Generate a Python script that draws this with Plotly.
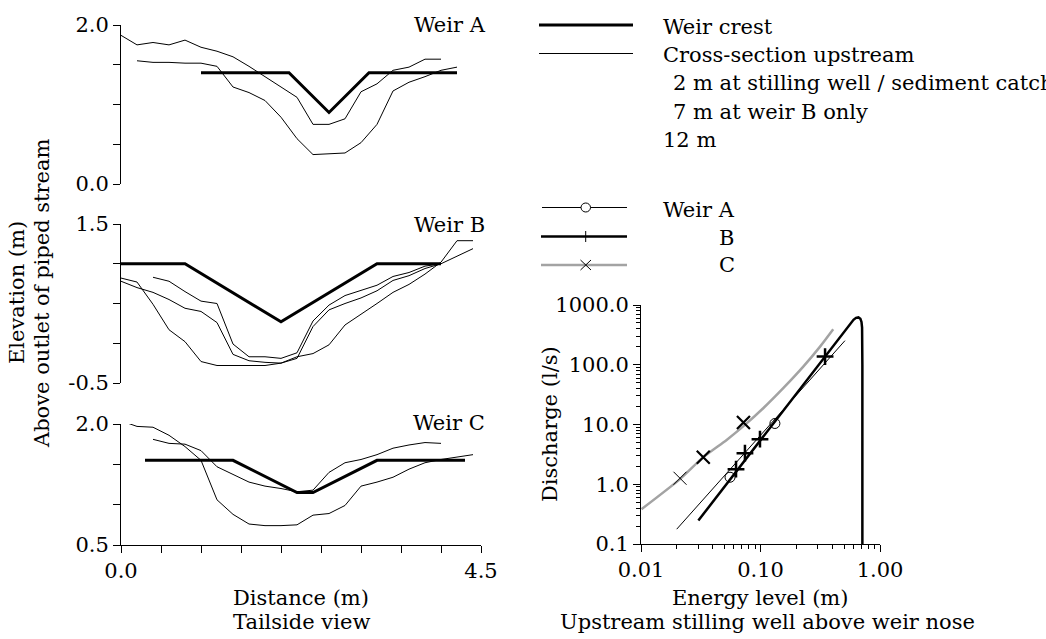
import plotly.graph_objects as go

W, H = 1046, 639
FONT = "DejaVu Serif"
FS = 21

# ---------------- Weir cross-sections (distance m, elevation m) ----------------
weirA_crest_x = [1.0, 2.1, 2.6, 3.1, 4.2]
weirA_crest_y = [1.4, 1.4, 0.9, 1.4, 1.4]
weirA_sec1_x = [0.0, 0.2, 0.4, 0.6, 0.8, 1.0, 1.2, 1.4, 1.6, 1.8, 2.0,
                2.2, 2.4, 2.6, 2.8, 3.0, 3.2, 3.4, 3.6, 3.8, 4.0]
weirA_sec1_y = [1.87, 1.75, 1.78, 1.75, 1.81, 1.72, 1.67, 1.60, 1.48, 1.35, 1.22,
                1.09, 0.75, 0.75, 0.82, 1.16, 1.26, 1.43, 1.47, 1.57, 1.57]
weirA_sec2_x = [0.2, 0.4, 0.6, 0.8, 1.0, 1.2, 1.4, 1.6, 1.8, 2.0, 2.2,
                2.4, 2.6, 2.8, 3.0, 3.2, 3.4, 3.6, 3.8, 4.0, 4.2]
weirA_sec2_y = [1.55, 1.53, 1.53, 1.52, 1.52, 1.48, 1.22, 1.15, 1.05, 0.84, 0.57,
                0.37, 0.38, 0.39, 0.52, 0.75, 1.17, 1.28, 1.35, 1.43, 1.47]

weirB_crest_x = [0.0, 0.8, 2.0, 3.2, 4.0]
weirB_crest_y = [1.0, 1.0, 0.27, 1.0, 1.0]
weirB_sec1_x = [0.0, 0.2, 0.4, 0.6, 0.8, 1.0, 1.2, 1.4, 1.6, 1.8, 2.0, 2.2,
                2.4, 2.6, 2.8, 3.0, 3.2, 3.4, 3.6, 3.8, 4.0, 4.2, 4.4]
weirB_sec1_y = [0.82, 0.77, 0.49, 0.17, 0.02, -0.23, -0.28, -0.28, -0.28, -0.28, -0.25, -0.17,
                -0.13, -0.02, 0.23, 0.36, 0.50, 0.64, 0.74, 0.87, 1.02, 1.29, 1.29]
weirB_sec2_x = weirB_sec1_x
weirB_sec2_y = [0.78, 0.70, 0.64, 0.55, 0.44, 0.40, 0.26, -0.14, -0.22, -0.24, -0.25, -0.19,
                0.21, 0.42, 0.50, 0.57, 0.66, 0.79, 0.85, 0.94, 1.00, 1.09, 1.19]
weirB_sec3_x = [0.4, 0.6, 0.8, 1.0, 1.2, 1.4, 1.6, 1.8, 2.0, 2.2,
                2.4, 2.6, 2.8, 3.0, 3.2, 3.4, 3.6, 3.8, 4.0]
weirB_sec3_y = [0.83, 0.78, 0.65, 0.53, 0.50, -0.01, -0.17, -0.17, -0.19, -0.12,
                0.28, 0.48, 0.60, 0.67, 0.73, 0.84, 0.89, 0.97, 1.00]

weirC_crest_x = [0.3, 1.4, 2.2, 2.4, 3.2, 4.3]
weirC_crest_y = [1.55, 1.55, 1.15, 1.15, 1.55, 1.55]
weirC_sec1_x = [0.0, 0.2, 0.4, 0.6, 0.8, 1.0, 1.2, 1.4, 1.6, 1.8, 2.0, 2.2,
                2.4, 2.6, 2.8, 3.0, 3.2, 3.4, 3.6, 3.8, 4.0, 4.2, 4.4]
weirC_sec1_y = [2.04, 1.97, 1.96, 1.86, 1.72, 1.55, 1.06, 0.88, 0.76, 0.74, 0.74, 0.75,
                0.87, 0.89, 0.99, 1.23, 1.28, 1.34, 1.44, 1.52, 1.56, 1.59, 1.62]
weirC_sec2_x = [0.4, 0.6, 0.8, 1.0, 1.2, 1.4, 1.6, 1.8, 2.0, 2.2,
                2.4, 2.6, 2.8, 3.0, 3.2, 3.4, 3.6, 3.8, 4.0]
weirC_sec2_y = [1.81, 1.76, 1.75, 1.67, 1.47, 1.37, 1.28, 1.23, 1.20, 1.16,
                1.18, 1.40, 1.52, 1.56, 1.62, 1.70, 1.74, 1.77, 1.76]

# ---------------- Rating curves (energy level m, discharge l/s) ----------------
ratingA_E = [0.0199, 0.509]
ratingA_Q = [0.177, 253]
measA_E = [0.0556, 0.132]
measA_Q = [1.31, 10.4]

ratingB_E = [0.0302, 0.55, 0.60, 0.63, 0.66, 0.685, 0.70, 0.708, 0.711, 0.712, 0.712]
ratingB_Q = [0.247, 440, 565, 610, 620, 590, 520, 420, 300, 100, 0.1]
measB_E = [0.0624, 0.0741, 0.099, 0.347]
measB_Q = [1.79, 3.31, 5.68, 137]

ratingC_E = [0.0101, 0.0212, 0.0332, 0.0521, 0.0741, 0.1054, 0.155, 0.228, 0.315, 0.406]
ratingC_Q = [0.383, 1.22, 2.84, 5.52, 9.84, 18.7, 40.5, 92.9, 201, 393]
measC_E = [0.0212, 0.0332, 0.072]
measC_Q = [1.26, 2.84, 10.8]

GREY = "#a3a3a3"


def fx(p):
    return p / W


def fy(p):
    return 1 - p / H


fig = go.Figure()


def section(x, y, ax, width=1.0):
    fig.add_trace(go.Scatter(x=x, y=y, mode="lines", xaxis="x" + ax, yaxis="y" + ax,
                             line=dict(color="black", width=width), hoverinfo="skip"))


for ax, crest, secs in [
    ("", (weirA_crest_x, weirA_crest_y), [(weirA_sec1_x, weirA_sec1_y), (weirA_sec2_x, weirA_sec2_y)]),
    ("2", (weirB_crest_x, weirB_crest_y), [(weirB_sec1_x, weirB_sec1_y), (weirB_sec2_x, weirB_sec2_y),
                                           (weirB_sec3_x, weirB_sec3_y)]),
    ("3", (weirC_crest_x, weirC_crest_y), [(weirC_sec1_x, weirC_sec1_y), (weirC_sec2_x, weirC_sec2_y)]),
]:
    for sx, sy in secs:
        section(sx, sy, ax)
    section(crest[0], crest[1], ax, width=3)

# rating curves
fig.add_trace(go.Scatter(x=ratingC_E, y=ratingC_Q, mode="lines", xaxis="x4", yaxis="y4",
                         line=dict(color=GREY, width=2.5, shape="spline", smoothing=0.6)))
fig.add_trace(go.Scatter(x=ratingA_E, y=ratingA_Q, mode="lines", xaxis="x4", yaxis="y4",
                         line=dict(color="black", width=1)))
fig.add_trace(go.Scatter(x=ratingB_E, y=ratingB_Q, mode="lines", xaxis="x4", yaxis="y4",
                         line=dict(color="black", width=2.5)))
fig.add_trace(go.Scatter(x=measA_E, y=measA_Q, mode="markers", xaxis="x4", yaxis="y4",
                         marker=dict(symbol="circle-open", size=10, color="black",
                                     line=dict(width=1, color="black"))))
fig.add_trace(go.Scatter(x=measB_E, y=measB_Q, mode="markers", xaxis="x4", yaxis="y4",
                         marker=dict(symbol="cross-thin-open", size=12, color="black",
                                     line=dict(width=2.5, color="black"))))
fig.add_trace(go.Scatter(x=measC_E, y=measC_Q, mode="markers", xaxis="x4", yaxis="y4",
                         marker=dict(symbol="x-thin-open", size=13, color="black",
                                     line=dict(width=[1, 2.2, 2.2], color="black"))))

tickfont = dict(family=FONT, size=FS, color="black")
common = dict(showgrid=False, zeroline=False, showline=True, linecolor="black", linewidth=1,
              ticks="outside", ticklen=7, tickwidth=1, tickcolor="black", tickfont=tickfont,
              automargin=False)

left_x = [fx(121), fx(481)]
hidden_x = dict(domain=left_x, range=[0, 4.5], visible=False, fixedrange=True, automargin=False)

layout = dict(
    width=W, height=H, margin=dict(l=0, r=0, t=0, b=0, autoexpand=False),
    paper_bgcolor="white", plot_bgcolor="white", showlegend=False,
    font=dict(family=FONT, size=FS, color="black"),
    xaxis=dict(hidden_x, anchor="y"),
    yaxis=dict(common, domain=[fy(184), fy(25)], range=[0, 2], anchor="x",
               tickvals=[0, 0.5, 1, 1.5, 2], ticktext=["0.0", "", "", "", "2.0"]),
    xaxis2=dict(hidden_x, anchor="y2"),
    yaxis2=dict(common, domain=[fy(383), fy(224)], range=[-0.5, 1.5], anchor="x2",
                tickvals=[-0.5, 0, 0.5, 1, 1.5], ticktext=["-0.5", "", "", "", "1.5"]),
    xaxis3=dict(common, domain=left_x, range=[0, 4.5], anchor="y3",
                tickvals=[0, 0.5, 1, 1.5, 2, 2.5, 3, 3.5, 4, 4.5],
                ticktext=["0.0", "", "", "", "", "", "", "", "", "4.5"]),
    yaxis3=dict(common, domain=[fy(545), fy(424)], range=[0.5, 2.0], anchor="x3",
                tickvals=[0.5, 1, 1.5, 2], ticktext=["0.5", "", "", "2.0"]),
    xaxis4=dict(common, type="log", domain=[fx(641), fx(880)], range=[-2, 0], anchor="y4",
                tickvals=[0.01, 0.1, 1], ticktext=["0.01", "0.10", "1.00"],
                minor=dict(ticks="outside", ticklen=4, tickcolor="black", tickmode="array",
                           tickvals=[m * d for d in (0.01, 0.1) for m in range(2, 10)])),
    yaxis4=dict(common, type="log", domain=[fy(544), fy(305)], range=[-1, 3], anchor="x4",
                tickvals=[0.1, 1, 10, 100, 1000], ticktext=["0.1", "1.0", "10.0", "100.0", "1000.0"],
                minor=dict(ticks="outside", ticklen=4, tickcolor="black", tickmode="array",
                           tickvals=[m * d for d in (0.1, 1, 10, 100) for m in range(2, 10)])),
)

annotations = []


def text(s, x, y, xanchor="left", angle=0):
    annotations.append(dict(text=s, x=fx(x), y=fy(y), xref="paper", yref="paper",
                            xanchor=xanchor, yanchor="middle", showarrow=False,
                            textangle=angle, font=dict(family=FONT, size=FS, color="black")))


text("Weir A", 488, 25, "right")
text("Weir B", 487, 225, "right")
text("Weir C", 487, 423, "right")

text("Weir crest", 661, 27)
text("Cross-section upstream", 661, 55)
text("2 m at stilling well / sediment catch", 671, 83)
text("7 m at weir B only", 671, 112)
text("12 m", 661, 140)
text("Weir A", 661, 210)
text("B", 717, 238)
text("C", 717, 265)

text("Distance (m)", 301, 598, "center")
text("Tailside view", 301, 622, "center")
text("Energy level (m)", 760, 598, "center")
text("Upstream stilling well above weir nose", 767, 622, "center")
text("Elevation (m)", 17, 293, "center", -90)
text("Above outlet of piped stream", 42, 293, "center", -90)
text("Discharge (l/s)", 550, 424, "center", -90)

shapes = []


def seg(x0, y0, x1, y1, color="black", width=1):
    shapes.append(dict(type="line", xref="paper", yref="paper", x0=fx(x0), y0=fy(y0),
                       x1=fx(x1), y1=fy(y1), line=dict(color=color, width=width)))


# legend samples
seg(539, 25, 633, 25, width=3)
seg(539, 53.5, 633, 53.5, width=1)
seg(542, 207.5, 627, 207.5, width=1)
shapes.append(dict(type="circle", xref="paper", yref="paper", x0=fx(581), x1=fx(590.5),
                   y0=fy(203), y1=fy(212), line=dict(color="black", width=1), fillcolor="white"))
seg(541, 236.5, 627, 236.5, width=2.5)
seg(585.7, 231, 585.7, 242, width=1)
seg(541, 265, 627, 265, color=GREY, width=2.5)
seg(580.5, 260, 591, 270, width=1)
seg(580.5, 270, 591, 260, width=1)

layout["annotations"] = annotations
layout["shapes"] = shapes
fig.update_layout(layout)

fig.write_html("out.html")
